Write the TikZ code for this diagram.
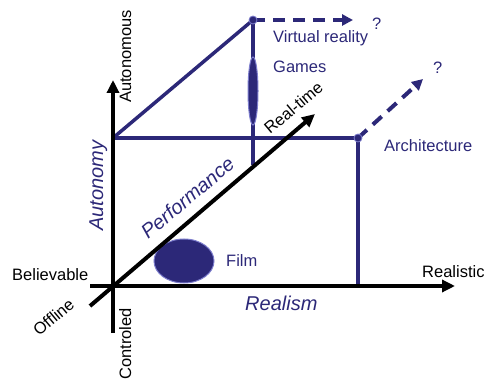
\documentclass[tikz,border=0pt]{standalone}
\usepackage{fontspec}
\setmainfont{Liberation Sans}
\usetikzlibrary{arrows.meta,shapes.geometric}
\definecolor{navy}{RGB}{44,40,120}
\definecolor{navyedge}{RGB}{125,125,205}
\begin{document}
\begin{tikzpicture}[x=1pt,y=-1pt,
 lbl/.style={inner sep=0pt,font=\fontsize{16.5}{18}\selectfont},
 blbl/.style={lbl,text=navy},
 ilbl/.style={inner sep=0pt,font=\fontsize{20}{22}\selectfont\itshape,text=navy},
 axis/.style={line width=4pt,-{Triangle[length=13pt,width=12pt]}},
 bline/.style={navy,line width=3.5pt},
 darrow/.style={navy,line width=4pt,dash pattern=on 12pt off 8pt,-{Triangle[length=11pt,width=11pt]}},
 dot/.style={circle,fill=navy,draw=navyedge,line width=0.8pt,minimum size=8pt,inner sep=0pt},
 blob/.style={ellipse,fill=navy,draw=navyedge,line width=1pt,inner sep=0pt}]
\useasboundingbox (0,0) rectangle (484,379);
% coordinates
\coordinate (O) at (113,286);
\coordinate (Ytop) at (113,80);
\coordinate (Ybot) at (113,333);
\coordinate (Xl) at (90,286);
\coordinate (Xr) at (455,286);
\coordinate (Dl) at (90,306);
\coordinate (Dr) at (315,114);
\coordinate (A) at (113,138);
\coordinate (VR) at (253,20);
\coordinate (AR) at (358,138);
\coordinate (VRb) at (253,165);
\coordinate (ARb) at (358,286);
\coordinate (VRq) at (353,20);
\coordinate (ARq) at (423,79);
% blue structure
\draw[bline] (A) -- (VR);
\draw[bline] (A) -- (AR);
\draw[bline] (VR) -- (VRb);
\draw[bline] (AR) -- (ARb);
\node[blob,minimum width=10pt,minimum height=68pt] (games) at (253,91) {};
\node[blob,minimum width=60pt,minimum height=44pt] (film) at (184,261) {};
\draw[darrow] (VR) -- (VRq);
\draw[darrow] (AR) -- (ARq);
\node[dot] (vrdot) at (VR) {};
\node[dot] (ardot) at (AR) {};
% axes
\draw[axis] (Ybot) -- (Ytop);
\draw[axis] (Xl) -- (Xr);
\draw[axis] (Dl) -- (Dr);
% labels
\node[blbl,anchor=base west] (tvr) at (273,43) {Virtual reality};
\node[blbl,anchor=base west] (tgames) at (273,73) {Games};
\node[blbl,anchor=base west] (tq1) at (372,30) {?};
\node[blbl,anchor=base west] (tq2) at (433,74) {?};
\node[blbl,anchor=base west] (tarch) at (384,152) {Architecture};
\node[blbl,anchor=base west] (tfilm) at (226,266) {Film};
\node[lbl,anchor=base west] (treal) at (422,277) {Realistic};
\node[lbl,anchor=base west] (tbel) at (12,280) {Believable};
\node[lbl,anchor=base west,rotate=90] (tauto) at (131,103) {Autonomous};
\node[lbl,anchor=base west,rotate=90] (tctrl) at (131,380) {Controled};
\node[lbl,anchor=base west,rotate=40] (toff) at (39,337) {Offline};
\node[lbl,anchor=base west,rotate=40] (trt) at (270,135) {Real-time};
\node[ilbl,anchor=base west] (trealism) at (245,310) {Realism};
\node[ilbl,anchor=base west,rotate=90] (tautonomy) at (103,231) {Autonomy};
\node[ilbl,anchor=base west,rotate=40] (tperf) at (148,240) {Performance};
\end{tikzpicture}
\end{document}
